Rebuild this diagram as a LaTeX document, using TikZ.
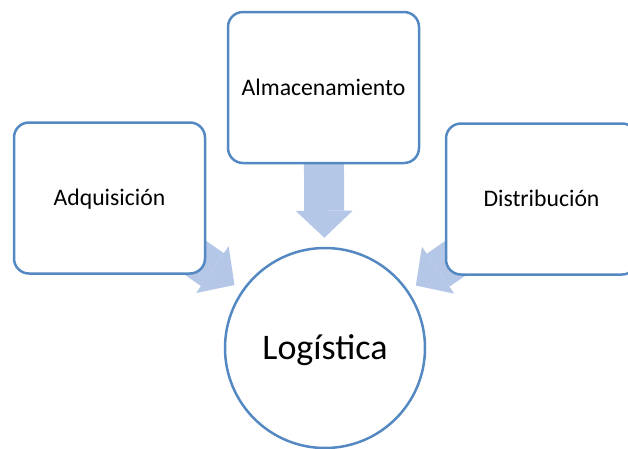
\documentclass[tikz,border=0pt]{standalone}
\usepackage{fontspec}
\setmainfont{Carlito}
\usetikzlibrary{arrows.meta,backgrounds}

\definecolor{boxline}{RGB}{84,136,194}
\definecolor{arrowfill}{RGB}{180,199,231}

\begin{document}
\begin{tikzpicture}[x=1pt,y=-1pt,
  box/.style={draw=boxline, line width=2.5pt, fill=white, rounded corners=15pt,
    minimum width=191pt, minimum height=151pt, inner sep=0pt,
    text height=15pt, text depth=0pt, font=\fontsize{23.7}{28}\selectfont},
  hub/.style={circle, draw=boxline, line width=2.5pt, fill=white,
    minimum size=200pt, inner sep=0pt,
    text height=23pt, text depth=0pt, font=\fontsize{36}{43}\selectfont},
  fatarrow/.style={arrowfill, line width=40pt, shorten >=9pt,
    -{Triangle[length=27pt, width=57pt, line width=0pt]}}]

    \useasboundingbox (0,0) rectangle (628,448);

    % the three steps and the hub
    \node[box] (alm) at (323.5,87.5) {Almacenamiento};
    \node[box] (adq) at (109.5,198) {Adquisición};
    \node[box] (dis) at (541.5,199) {Distribución};
    \node[hub] (log) at (325,348) {Logística};

    % block arrows behind the boxes
    \begin{scope}[on background layer]
        \foreach \src in {adq,alm,dis}{
            \draw[fatarrow] (\src.center) -- (log);
        };
    \end{scope}

\end{tikzpicture}
\end{document}
